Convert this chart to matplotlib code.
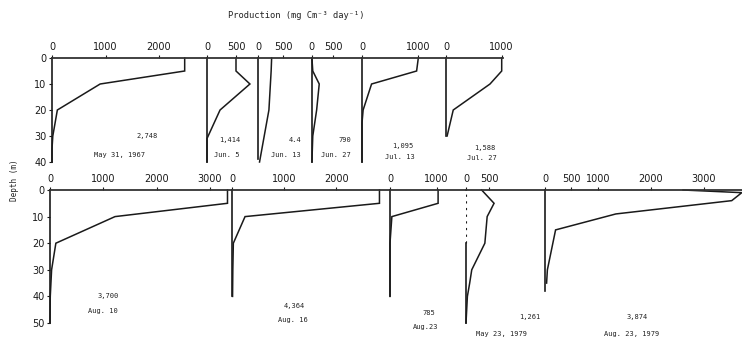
import matplotlib
matplotlib.use("Agg")
import matplotlib.pyplot as plt

# ---------------- data ----------------
dates = ["May 31, 1967", "Jun. 5", "Jun. 13", "Jun. 27", "Jul. 13", "Jul. 27",
         "Aug. 10", "Aug. 16", "Aug.23", "May 23, 1979", "Aug. 23, 1979"]
totals = ["2,748", "1,414", "4.4", "790", "1,095", "1,588",
          "3,700", "4,364", "785", "1,261", "3,874"]

depth_0531 = [0, 5, 10, 20, 30, 35, 40]
prod_0531 = [2480, 2480, 900, 100, 15, 0, 0]
depth_0605 = [0, 5, 10, 20, 30, 31, 40]
prod_0605 = [500, 500, 740, 225, 20, 0, 0]
depth_0613 = [0, 5, 10, 20, 30, 40]
prod_0613 = [270, 260, 245, 215, 120, 25]
depth_0627 = [0, 5, 10, 20, 30, 40]
prod_0627 = [5, 25, 175, 115, 25, 5]
depth_0713 = [0, 5, 10, 20, 25, 30, 40]
prod_0713 = [1000, 970, 170, 20, 0, 0, 0]
depth_0727 = [0, 5, 10, 20, 30]
prod_0727 = [1000, 1000, 790, 130, 20]
depth_0810 = [0, 5, 10, 20, 30, 40, 50]
prod_0810 = [3330, 3330, 1220, 110, 30, 5, 0]
depth_0816 = [0, 5, 10, 20, 30, 40]
prod_0816 = [2830, 2830, 245, 20, 10, 5]
depth_0823 = [0, 5, 10, 20, 30, 40]
prod_0823 = [1030, 1030, 40, 0, 0, 0]
depth_0523_79 = [0, 5, 10, 20, 30, 35, 40, 50]
prod_0523_79 = [340, 610, 460, 410, 125, 80, 30, 0]
depth_0823_79 = [0, 1, 4, 9, 15, 30, 35]
prod_0823_79 = [2610, 3720, 3530, 1340, 200, 45, 30]

depths = [depth_0531, depth_0605, depth_0613, depth_0627, depth_0713, depth_0727,
          depth_0810, depth_0816, depth_0823, depth_0523_79, depth_0823_79]
prods = [prod_0531, prod_0605, prod_0613, prod_0627, prod_0713, prod_0727,
         prod_0810, prod_0816, prod_0823, prod_0523_79, prod_0823_79]

xticks = [[0, 1000, 2000], [0, 500], [0, 500], [0, 500], [0, 1000], [0, 1000],
          [0, 1000, 2000, 3000], [0, 1000, 2000], [0, 1000], [0, 500],
          [0, 500, 1000, 2000, 3000]]
yticks_top = [0, 10, 20, 30, 40]
yticks_bottom = [0, 10, 20, 30, 40, 50]

# ---------------- layout (pixels) ----------------
W, H = 742, 341
# row: (y of depth 0, y of max depth, max depth)
rows = {0: (58, 162, 40), 1: (190, 323, 50)}
# per panel: row, zero-x pixel, pixels per unit, right pixel, spine bottom depth
layout = [
    (0, 52.0, 0.0535, 207.0, 40),
    (0, 207.0, 0.0580, 258.3, 40),
    (0, 258.3, 0.0494, 311.7, 39),
    (0, 311.7, 0.0430, 362.0, 40),
    (0, 362.0, 0.0563, 446.0, 40),
    (0, 446.0, 0.0557, 503.0, 30),
    (1, 50.0, 0.0533, 232.3, 50),
    (1, 232.3, 0.0520, 390.0, 40),
    (1, 390.0, 0.0467, 466.0, 40),
    (1, 466.0, 0.0460, 545.0, 50),
    (1, 545.0, 0.0529, 742.0, 38),
]
label_pos = [
    ((147, 136), (120, 155)),
    ((230, 140), (227, 155)),
    ((295, 140), (286, 155)),
    ((345, 140), (336, 155)),
    ((403, 146), (400, 157)),
    ((485, 148), (482, 158)),
    ((108, 296), (103, 311)),
    ((294, 306), (293, 320)),
    ((429, 313), (426, 327)),
    ((530, 317), (502, 334)),
    ((637, 317), (632, 334)),
]

tick_font = ["Liberation Sans Narrow", "DejaVu Sans"]
mono_font = ["DejaVu Sans Mono", "DejaVu Sans"]
ink = "#1a1a1a"

fig = plt.figure(figsize=(W / 100, H / 100), dpi=100)

for i, (row, z, s, r, spine_bottom) in enumerate(layout):
    y0, y1, dmax = rows[row]
    ax = fig.add_axes([z / W, 1 - y1 / H, (r - z) / W, (y1 - y0) / H])
    ax.patch.set_alpha(0)
    ax.set_xlim(0, (r - z) / s)
    ax.set_ylim(dmax, 0)
    ax.plot(prods[i], depths[i], color=ink, lw=1.1, clip_on=False,
            solid_joinstyle="miter")
    for sp in ("right", "bottom"):
        ax.spines[sp].set_visible(False)
    ax.spines["top"].set_linewidth(1.3)
    ax.spines["top"].set_color("#333333")
    ax.spines["left"].set_linewidth(1.2)
    ax.spines["left"].set_color(ink)
    ax.spines["left"].set_bounds(0, spine_bottom)
    if i == 9:
        ax.spines["left"].set_bounds(20, spine_bottom)
        ax.axvline(0, ymin=1 - 20 / dmax, ymax=1, color=ink, lw=0.8, ls=(0, (2, 4)))
    ax.xaxis.tick_top()
    ax.set_xticks(xticks[i])
    ax.set_xticklabels([str(t) for t in xticks[i]], family=tick_font, fontsize=7)
    ax.tick_params(axis="x", direction="out", length=2, width=0.8, pad=2.5,
                   colors=ink)
    if i in (0, 6):
        yt = yticks_top if row == 0 else yticks_bottom
        ax.set_yticks(yt)
        ax.set_yticklabels([str(t) for t in yt], family=tick_font, fontsize=7)
        ax.tick_params(axis="y", direction="out", length=2, width=0.8, pad=2,
                       colors=ink)
    else:
        ax.set_yticks([])
    (tx, ty), (dx, dy) = label_pos[i]
    fig.text(tx / W, 1 - ty / H, totals[i], ha="center", va="center",
             family=mono_font, fontsize=5, color="#222222")
    fig.text(dx / W, 1 - dy / H, dates[i], ha="center", va="center",
             family=mono_font, fontsize=5, color="#222222")

fig.text(296 / W, 1 - 16 / H, "Production (mg Cm\u207b\u00b3 day\u207b\u00b9)",
         ha="center", va="center", family=mono_font, fontsize=6.3, color="#222222")
fig.text(15 / W, 1 - 180 / H, "Depth (m)", ha="center", va="center",
         rotation=90, family=mono_font, fontsize=5.5, color="#222222")

fig.savefig("out.png", dpi=100)
